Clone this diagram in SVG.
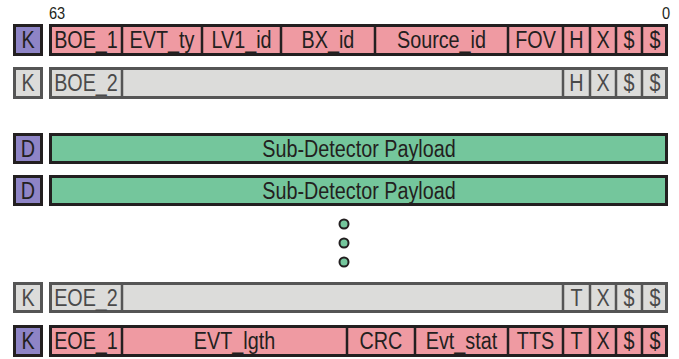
<svg xmlns="http://www.w3.org/2000/svg" width="679" height="359" viewBox="0 0 679 359">
<style>
text{font-family:"Liberation Sans",Arial,sans-serif;font-size:23px;text-anchor:middle;fill:#231f20;transform-box:fill-box;transform-origin:center;transform:scaleX(0.86)}
.pk{fill:#ef9aa2;stroke:#231f20;stroke-width:3}
.pu{fill:#8e84c6;stroke:#231f20;stroke-width:3}
.gr{fill:#dcdcda;stroke:#555;stroke-width:3}
.gn{fill:#74c69c;stroke:#231f20;stroke-width:3}
.dk{stroke:#231f20;stroke-width:2.5}
.lg{stroke:#555;stroke-width:2.5}
.g text{fill:#4a4a4a}
text.bit{font-size:17px}
.dot{fill:#74c69c;stroke:#231f20;stroke-width:2}
</style>
<text class="bit" x="57" y="19">63</text>
<text class="bit" x="666" y="19">0</text>

<g id="row-boe1">
<rect class="pu" x="14.5" y="25.5" width="27" height="29"/>
<text x="28" y="48.5">K</text>
<rect class="pk" x="50.5" y="25.5" width="616" height="29"/>
<path class="dk" d="M122 25V55M202 25V55M281 25V55M375 25V55M508 25V55M563 25V55M590 25V55M616 25V55M642 25V55"/>
<text x="86" y="48.5">BOE_1</text>
<text x="162" y="48.5">EVT_ty</text>
<text x="241.5" y="48.5">LV1_id</text>
<text x="328" y="48.5">BX_id</text>
<text x="441.5" y="48.5">Source_id</text>
<text x="535.5" y="48.5">FOV</text>
<text x="576.5" y="48.5">H</text>
<text x="603" y="48.5">X</text>
<text x="629" y="48.5">$</text>
<text x="655" y="48.5">$</text>
</g>

<g id="row-boe2" class="g">
<rect class="gr" x="14.5" y="68.5" width="27" height="29"/>
<text x="28" y="91.5">K</text>
<rect class="gr" x="50.5" y="68.5" width="616" height="29"/>
<path class="lg" d="M122 68V98M563 68V98M590 68V98M616 68V98M642 68V98"/>
<text x="86" y="91.5">BOE_2</text>
<text x="576.5" y="91.5">H</text>
<text x="603" y="91.5">X</text>
<text x="629" y="91.5">$</text>
<text x="655" y="91.5">$</text>
</g>

<g id="row-payload1">
<rect class="pu" x="14.5" y="134.5" width="27" height="28"/>
<text x="28" y="157">D</text>
<rect class="gn" x="50.5" y="134.5" width="616" height="28"/>
<text x="359" y="157">Sub-Detector Payload</text>
</g>

<g id="row-payload2">
<rect class="pu" x="14.5" y="176.5" width="27" height="28"/>
<text x="28" y="199">D</text>
<rect class="gn" x="50.5" y="176.5" width="616" height="28"/>
<text x="359" y="199">Sub-Detector Payload</text>
</g>

<g id="ellipsis">
<circle class="dot" cx="344" cy="224" r="4.5"/>
<circle class="dot" cx="344" cy="243" r="4.5"/>
<circle class="dot" cx="344" cy="262" r="4.5"/>
</g>

<g id="row-eoe2" class="g">
<rect class="gr" x="14.5" y="283.5" width="27" height="28"/>
<text x="28" y="306">K</text>
<rect class="gr" x="50.5" y="283.5" width="616" height="28"/>
<path class="lg" d="M122 283V312M563 283V312M590 283V312M616 283V312M642 283V312"/>
<text x="86" y="306">EOE_2</text>
<text x="576.5" y="306">T</text>
<text x="603" y="306">X</text>
<text x="629" y="306">$</text>
<text x="655" y="306">$</text>
</g>

<g id="row-eoe1">
<rect class="pu" x="14.5" y="326.5" width="27" height="29"/>
<text x="28" y="349.5">K</text>
<rect class="pk" x="50.5" y="326.5" width="616" height="29"/>
<path class="dk" d="M122 326V356M347 326V356M415 326V356M508 326V356M563 326V356M590 326V356M616 326V356M642 326V356"/>
<text x="86" y="349.5">EOE_1</text>
<text x="234.5" y="349.5">EVT_lgth</text>
<text x="381" y="349.5">CRC</text>
<text x="461.5" y="349.5">Evt_stat</text>
<text x="535.5" y="349.5">TTS</text>
<text x="576.5" y="349.5">T</text>
<text x="603" y="349.5">X</text>
<text x="629" y="349.5">$</text>
<text x="655" y="349.5">$</text>
</g>
</svg>
